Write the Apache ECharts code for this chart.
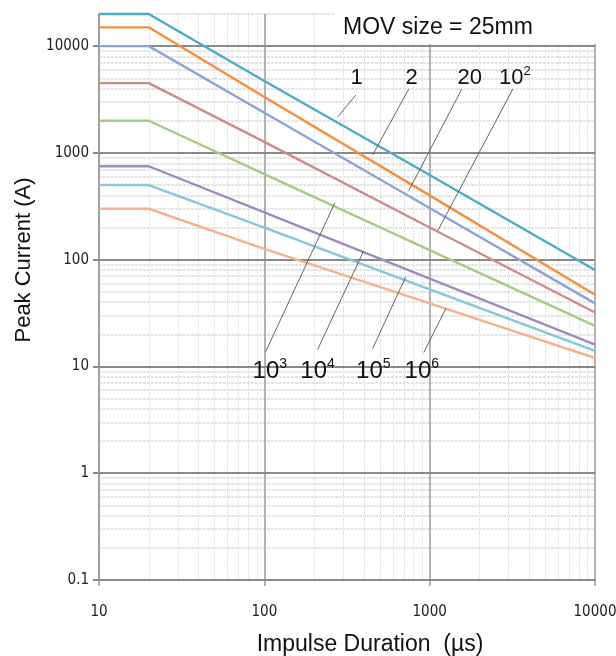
<!DOCTYPE html>
<html><head><meta charset="utf-8">
<script src="https://cdn.jsdelivr.net/npm/echarts@6/dist/echarts.min.js"></script>
<style>html,body{margin:0;padding:0;background:#fff;overflow:hidden}#c{width:616px;height:656px}</style>
</head><body><div id="c"></div>
<script>
// ---- data ----
const durations = [10, 20, 100, 1000, 10000];
const curve1   = [20000, 20000, 4710, 620, 80];
const curve2   = [15000, 15000, 3340, 400, 47];
const curve20  = [10000, 10000, 2380, 305, 39];
const curve1e2 = [4500, 4500, 1267, 200, 32];
const curve1e3 = [2000, 2000, 632, 123, 24];
const curve1e4 = [750, 750, 277, 66.5, 16];
const curve1e5 = [500, 500, 200, 52.7, 14];
const curve1e6 = [300, 300, 126, 39, 12];
const seriesNames = ['1', '2', '20', '10²', '10³', '10⁴', '10⁵', '10⁶'];
const xTicks = [10, 100, 1000, 10000];
const yTicks = [0.1, 1, 10, 100, 1000, 10000];
const xMin = 10, xMax = 10000, yMin = 0.1, yMax = 20000;
// annotation labels (data coordinates)
const labelBase = ['1', '2', '20', '10', '10', '10', '10', '10'];
const labelSup  = ['', '', '', '2', '3', '4', '5', '6'];
const labelX = [362, 779, 1749, 3275, 108, 210, 456, 896];
const labelY = [5080, 5080, 5080, 5080, 9.0, 9.0, 9.0, 9.0];
const leaderFromX = [357, 747, 1564, 3184, 102, 210, 452, 921];
const leaderFromY = [3483, 3963, 3963, 3963, 13.8, 14.4, 14.7, 13.5];
const leaderToX = [278, 452, 747, 1120, 267, 399, 717, 1252];
const leaderToY = [2170, 958, 442, 187, 341, 121, 69.4, 34.8];

// ---- styles ----
const curves = [curve1, curve2, curve20, curve1e2, curve1e3, curve1e4, curve1e5, curve1e6];
const colors = ['#4BACC6', '#F68E3F', '#8EA4D4', '#D08A8A', '#A8CB84', '#9E8BC2', '#87C6DC', '#F9B08F'];
const tickFont = '"Liberation Sans Narrow", "DejaVu Sans Condensed", "Liberation Sans", sans-serif';
const mainFont = '"Liberation Sans", Arial, sans-serif';

const minorX = [], minorY = [];
xTicks.slice(0, -1).forEach(d => { for (let m = 2; m <= 9; m++) minorX.push(d * m); });
yTicks.forEach(d => { for (let m = 2; m <= 9; m++) { const v = d * m; if (v <= yMax * 1.0001) minorY.push(v); } });

const chart = echarts.init(document.getElementById('c'), null, {renderer: 'canvas'});

const series = [];
series.push({
  type: 'line', data: [], z: 1, silent: true, animation: false,
  markLine: {
    z: 1, silent: true, symbol: ['none', 'none'], label: {show: false}, animation: false,
    emphasis: {disabled: true},
    data: minorX.map(v => ({xAxis: v, lineStyle: {color: '#e0e0e0', width: 1, type: [2, 1]}}))
      .concat(minorY.map(v => ({yAxis: v, lineStyle: {color: '#e4e4e4', width: 2, type: [3, 1]}})))
  }
});
series.push({
  type: 'line', data: [], z: 2, silent: true, animation: false,
  markLine: {
    z: 2, silent: true, symbol: ['none', 'none'], label: {show: false}, animation: false,
    emphasis: {disabled: true},
    data: xTicks.map(v => ({xAxis: v, lineStyle: {color: '#9a9a9a', width: 1.5, type: 'solid'}}))
      .concat(yTicks.map(v => ({yAxis: v, lineStyle: {color: '#8a8a8a', width: 2, type: 'solid'}})))
  }
});
curves.forEach((c, i) => {
  series.push({
    name: seriesNames[i], type: 'line', z: 5, clip: false, animation: false,
    symbol: 'none', data: durations.map((x, j) => [x, c[j]]),
    lineStyle: {color: colors[i], width: 2.4}, itemStyle: {color: colors[i]}
  });
});
series.push({
  type: 'line', data: [], z: 6, silent: true, animation: false,
  markLine: {
    z: 6, silent: true, symbol: ['none', 'none'], label: {show: false}, animation: false,
    emphasis: {disabled: true},
    lineStyle: {color: '#555', width: 0.9, type: 'solid'},
    data: leaderFromX.map((x, i) => [{coord: [x, leaderFromY[i]]}, {coord: [leaderToX[i], leaderToY[i]]}])
  },
  markPoint: {
    z: 7, silent: true, animation: false, symbol: 'circle', symbolSize: 1,
    itemStyle: {color: 'rgba(0,0,0,0)'},
    label: {
      show: true, position: 'inside', align: 'center', verticalAlign: 'middle', color: '#111',
      fontFamily: mainFont,
      rich: {
        bt: {fontSize: 22, lineHeight: 26, fontFamily: mainFont, color: '#111'},
        st: {fontSize: 13, lineHeight: 14, verticalAlign: 'top', fontFamily: mainFont, color: '#111'},
        bb: {fontSize: 24, lineHeight: 28, fontFamily: mainFont, color: '#111'},
        sb: {fontSize: 14, lineHeight: 15, verticalAlign: 'top', fontFamily: mainFont, color: '#111'}
      }
    },
    data: labelBase.map((b, i) => {
      const top = i < 4;
      const f = '{' + (top ? 'bt' : 'bb') + '|' + b + '}' + (labelSup[i] ? '{' + (top ? 'st' : 'sb') + '|' + labelSup[i] + '}' : '');
      return {coord: [labelX[i], labelY[i]], label: {formatter: f}};
    })
  }
});

chart.setOption({
  animation: false,
  backgroundColor: '#fff',
  grid: {left: 99, right: 21, top: 14, bottom: 76, containLabel: false, outerBoundsMode: 'none'},
  xAxis: {
    type: 'log', logBase: 10, min: xMin, max: xMax,
    name: 'Impulse Duration  (µs)', nameLocation: 'middle', nameGap: 53,
    nameTextStyle: {fontSize: 23, fontFamily: mainFont, color: '#111', padding: [0, 0, 0, 46]},
    axisLine: {show: true, onZero: false, lineStyle: {color: '#8a8a8a', width: 2}},
    axisTick: {show: true, length: 6, customValues: xTicks, lineStyle: {color: '#9a9a9a', width: 1.5}},
    axisLabel: {show: true, customValues: xTicks, margin: 25, fontSize: 15, fontFamily: tickFont, color: '#222',
      formatter: v => String(v)},
    splitLine: {show: false}, minorTick: {show: false}, minorSplitLine: {show: false}
  },
  yAxis: {
    type: 'log', logBase: 10, min: yMin, max: yMax,
    name: 'Peak Current (A)', nameLocation: 'middle', nameGap: 63, nameRotate: 90,
    nameTextStyle: {fontSize: 22, fontFamily: mainFont, color: '#111', padding: [0, 0, 0, 74]},
    axisLine: {show: true, onZero: false, lineStyle: {color: '#999', width: 1.5}},
    axisTick: {show: true, length: 6, customValues: yTicks, lineStyle: {color: '#8a8a8a', width: 2}},
    axisLabel: {show: true, customValues: yTicks, margin: 10, fontSize: 15, fontFamily: tickFont, color: '#222',
      formatter: v => String(v)},
    splitLine: {show: false}, minorTick: {show: false}, minorSplitLine: {show: false}
  },
  graphic: [
    {type: 'rect', left: 335, top: 0, z: 100, shape: {width: 262, height: 44}, style: {fill: '#fff'}},
    {type: 'text', left: 343, top: 16, z: 101,
     style: {text: 'MOV size = 25mm', fontSize: 23, fontFamily: mainFont, fill: '#111'}}
  ],
  series: series
});
</script></body></html>
